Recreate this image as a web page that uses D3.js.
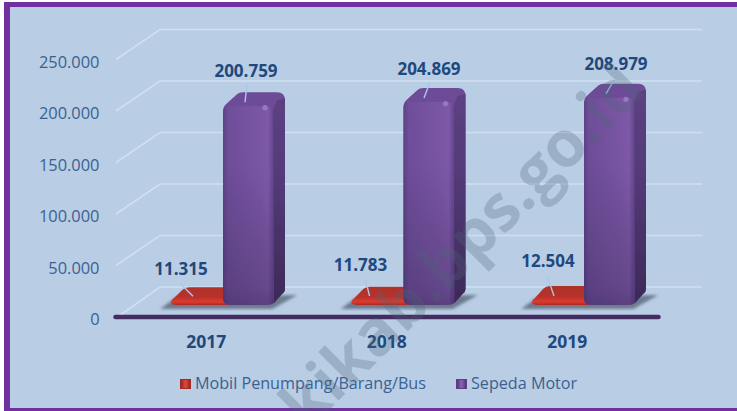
<!DOCTYPE html>
<html>
<head>
<meta charset="utf-8">
<script src="https://cdn.jsdelivr.net/npm/d3@7"></script>
<style>
  html, body { margin: 0; padding: 0; background: #fff; }
  svg { display: block; }
  text { font-family: "Open Sans", sans-serif; }
  .tick_label { font-size: 16.4px; fill: #3a6291; }
  .value_label { font-size: 17px; font-weight: 700; fill: #1f497d; }
  .year_label { font-size: 17.5px; font-weight: 700; fill: #1f497d; }
  .legend_label { font-size: 16.15px; fill: #3a6291; }
  .watermark { font-size: 64px; font-weight: 700; fill: #4f6478; fill-opacity: 0.28; }
</style>
</head>
<body>
<svg id="chart" width="737" height="411">
  <defs id="defs"></defs>
  <g id="frame"></g>
  <g id="grid"></g>
  <g id="shadows"></g>
  <g id="bars"></g>
  <g id="axes"></g>
  <g id="labels"></g>
  <g id="legend"></g>
  <g id="mark"></g>
</svg>
<script>
let years = ["2017", "2018", "2019"],
  mobil = [11315, 11783, 12504],
  motor = [200759, 204869, 208979],
  y_ticks = [0, 50000, 100000, 150000, 200000, 250000],
  series_names = ["Mobil Penumpang/Barang/Bus", "Sepeda Motor"];

let width = 737,
  height = 411,
  depth = {x: 44, y: 30},
  bar_depth = {x: 12, y: 14},
  base_y = 305;

let fmt = d3.formatLocale({decimal: ",", thousands: ".", grouping: [3], currency: ["", ""]}).format(",d");

let scales = {
  x: d3.scaleBand().domain(years).range([116, 657.5]),
  y: d3.scaleLinear().domain([0, 250000]).range([317, 59.5])
};

function gradient(id, x2, y2, stops) {
  d3.select("#defs").append("linearGradient")
    .attr("id", id).attr("x1", 0).attr("y1", 0).attr("x2", x2).attr("y2", y2)
    .selectAll("stop").data(stops).enter().append("stop")
    .attr("offset", d => d[0])
    .attr("stop-color", d => d[1])
    .attr("stop-opacity", d => d.length > 2 ? d[2] : 1);
}

function make_defs() {
  gradient("motor_front", 1, 0, [[0, "#5c4285"], [0.1, "#6f4e9a"], [0.75, "#7b56a5"], [0.9, "#7f5aa9"], [1, "#66478f"]]);
  gradient("motor_fade", 0, 1, [[0, "#2d1f4a", 0], [0.35, "#2d1f4a", 0.02], [0.92, "#2d1f4a", 0.3], [1, "#2d1f4a", 0.42]]);
  gradient("motor_side", 0, 1, [[0, "#5c4083"], [0.5, "#543a78"], [1, "#453060"]]);
  gradient("red_body", 0, 1, [[0, "#ad302a"], [0.55, "#b7322a"], [0.82, "#dd3b2f"], [1, "#ad2820"]]);
  gradient("red_swatch", 1, 0, [[0, "#8e2320"], [0.5, "#e0483c"], [1, "#8e2320"]]);
  gradient("motor_swatch", 1, 0, [[0, "#4b3370"], [0.5, "#8c63b5"], [1, "#4b3370"]]);
  d3.select("#defs").append("filter").attr("id", "soft")
    .append("feGaussianBlur").attr("stdDeviation", 0.7);
  d3.select("#defs").append("filter").attr("id", "shadow_blur")
    .append("feGaussianBlur").attr("stdDeviation", 1.6);
}

function frame() {
  let g = d3.select("#frame");
  g.append("rect")
    .attr("x", 4).attr("y", 2)
    .attr("width", width - 4).attr("height", height - 2)
    .attr("fill", "#7030a0");
  g.append("rect")
    .attr("x", 10).attr("y", 7)
    .attr("width", width - 10).attr("height", 401)
    .attr("fill", "#b9cde5");
}

function grid() {
  let right = 702, left = 116;
  d3.select("#grid").selectAll("path").data(y_ticks).enter().append("path")
    .attr("d", d => {
      let y = scales.y(d);
      return `M${left + (d == 0 ? 3 : 0)},${y - (d == 0 ? 1 : 0)}L${left + depth.x},${y - depth.y}L${right},${y - depth.y}`;
    })
    .attr("fill", "none")
    .attr("stroke", "#cfdff0")
    .attr("stroke-width", 1.6);
}

// whole outline of a purple bar, front face plus top and side
function outline(x0, w, top) {
  let x1 = x0 + w, dx = bar_depth.x, dy = bar_depth.y;
  return `M${x0 + 7},${base_y}Q${x0},${base_y} ${x0},${base_y - 7}L${x0},${top + 5}`
    + `Q${x0},${top} ${x0 + 4},${top - 3}L${x0 + dx + 2},${top - dy + 2}Q${x0 + dx + 4},${top - dy} ${x0 + dx + 8},${top - dy}`
    + `L${x1 + dx - 8},${top - dy}Q${x1 + dx},${top - dy} ${x1 + dx},${top - dy + 8}`
    + `L${x1 + dx},${base_y - dy - 2}Q${x1 + dx},${base_y - dy + 1} ${x1 + dx - 3},${base_y - dy + 3}`
    + `L${x1 + 1},${base_y - 2}Q${x1 - 2},${base_y} ${x1 - 6},${base_y}Z`;
}

function bars() {
  let g = d3.select("#bars");

  d3.select("#shadows").selectAll("path").data(years).enter().append("path")
    .attr("d", d => {
      let c = scales.x(d) + scales.x.bandwidth() / 2;
      return `M${c - 46},309L${c - 30},${base_y - 8}L${c + 91},${base_y - 10}L${c + 66},309Z`;
    })
    .attr("fill", "#6c7b8e")
    .attr("filter", "url(#shadow_blur)");

  // red bars first, the purple ones stand in front of them
  g.selectAll(".red").data(mobil).enter().append("path")
    .attr("class", "red")
    .attr("filter", "url(#soft)")
    .attr("d", (d, i) => {
      let x0 = scales.x(years[i]) + 55,
        x1 = scales.x(years[i]) + 112,
        top = scales.y(d) - 4;
      return `M${x0 + 6},${base_y}Q${x0},${base_y} ${x0},${base_y - 3}Q${x0},${base_y - 5} ${x0 + 3},${base_y - 7}`
        + `L${x0 + 11},${top - bar_depth.y + 3}Q${x0 + 14},${top - bar_depth.y} ${x0 + 19},${top - bar_depth.y}`
        + `L${x1},${top - bar_depth.y}L${x1},${base_y}Z`;
    })
    .attr("fill", "url(#red_body)");

  let purple = g.selectAll(".purple").data(motor).enter().append("g")
    .attr("class", "purple")
    .attr("filter", "url(#soft)");
  let px = i => scales.x(years[i]) + 107;
  let py = d => scales.y(d) - 4;

  // top surface
  purple.append("path")
    .attr("d", (d, i) => outline(px(i), 50, py(d)))
    .attr("fill", "#6d4b97");
  // right side
  purple.append("path")
    .attr("d", (d, i) => {
      let x1 = px(i) + 50, t = py(d);
      return `M${x1},${t + 6}Q${x1 + 1},${t - 1} ${x1 + 4},${t - 6}L${x1 + 12},${t - 8}`
        + `L${x1 + 12},${base_y - 16}Q${x1 + 12},${base_y - 13} ${x1 + 9},${base_y - 11}L${x1 + 1},${base_y - 2}Z`;
    })
    .attr("fill", "url(#motor_side)");
  // front face
  purple.append("path")
    .attr("d", (d, i) => {
      let x0 = px(i), t = py(d);
      return `M${x0 + 7},${base_y}Q${x0},${base_y} ${x0},${base_y - 7}L${x0},${t + 6}Q${x0},${t} ${x0 + 6},${t}`
        + `L${x0 + 44},${t}Q${x0 + 50},${t} ${x0 + 50},${t + 6}L${x0 + 50},${base_y - 3}Q${x0 + 49},${base_y} ${x0 + 44},${base_y}Z`;
    })
    .attr("fill", "url(#motor_front)");
  // everything darkens towards the floor
  purple.append("path")
    .attr("d", (d, i) => outline(px(i), 50, py(d)))
    .attr("fill", "url(#motor_fade)");
  purple.append("circle")
    .attr("cx", (d, i) => px(i) + 42)
    .attr("cy", d => py(d) + 1.5)
    .attr("r", 2.6)
    .attr("fill", "#9a74cc");
}

function axes() {
  let g = d3.select("#axes");
  g.append("line")
    .attr("x1", 115.5).attr("x2", 658.5)
    .attr("y1", scales.y(0)).attr("y2", scales.y(0))
    .attr("stroke", "#432c60")
    .attr("stroke-width", 4.5)
    .attr("stroke-linecap", "round");

  g.selectAll(".tick_label").data(y_ticks).enter().append("text")
    .attr("class", "tick_label")
    .attr("x", 99.5)
    .attr("y", d => scales.y(d) + 2.5)
    .attr("dy", "0.36em")
    .attr("text-anchor", "end")
    .text(d => d == 0 ? "0" : fmt(d));

  g.selectAll(".year_label").data(years).enter().append("text")
    .attr("class", "year_label")
    .attr("x", d => scales.x(d) + scales.x.bandwidth() / 2)
    .attr("y", 348)
    .attr("text-anchor", "middle")
    .text(d => d);
}

function labels() {
  let g = d3.select("#labels");
  // hand placed data labels: offset from the band start, and lift above the value
  let motor_nudge = [{x: 130, y: 33}, {x: 132.5, y: 31}, {x: 139, y: 32}],
    mobil_nudge = [{x: 65, y: 30}, {x: 64, y: 34}, {x: 71, y: 37}],
    motor_lead = [[131, 26, 129, 8], [133.5, 24, 127.5, 8], [139, 25, 129, 8]],
    mobil_lead = [[65, 21, 77, 9], [69, 25, 73, 9], [70, 29, 77, 8]];

  function leaders(cls, values, lead) {
    g.selectAll("." + cls).data(values).enter().append("line")
      .attr("class", cls)
      .attr("x1", (d, i) => scales.x(years[i]) + lead[i][0])
      .attr("x2", (d, i) => scales.x(years[i]) + lead[i][2])
      .attr("y1", (d, i) => scales.y(d) - lead[i][1])
      .attr("y2", (d, i) => scales.y(d) - lead[i][3])
      .attr("stroke", "#a9c9ec")
      .attr("stroke-width", 1.4);
  }
  function values(cls, vals, nudge) {
    g.selectAll("." + cls).data(vals).enter().append("text")
      .attr("class", cls + " value_label")
      .attr("x", (d, i) => scales.x(years[i]) + nudge[i].x)
      .attr("y", (d, i) => scales.y(d) - nudge[i].y)
      .attr("text-anchor", "middle")
      .text(d => fmt(d));
  }
  leaders("motor_lead", motor, motor_lead);
  leaders("mobil_lead", mobil, mobil_lead);
  values("motor_val", motor, motor_nudge);
  values("mobil_val", mobil, mobil_nudge);
}

function legend() {
  let g = d3.select("#legend"),
    swatch_x = [180, 456],
    fills = ["url(#red_swatch)", "url(#motor_swatch)"],
    edges = ["#a52a25", "#5b3f86"];

  let cell = g.selectAll("g").data(series_names).enter().append("g");
  cell.append("rect")
    .attr("x", (d, i) => swatch_x[i] + 0.5)
    .attr("y", 379.5)
    .attr("width", 10)
    .attr("height", 9)
    .attr("fill", (d, i) => fills[i])
    .attr("stroke", (d, i) => edges[i]);
  cell.append("text")
    .attr("class", "legend_label")
    .attr("x", (d, i) => swatch_x[i] + 15)
    .attr("y", 389)
    .text(d => d);
}

function watermark() {
  d3.select("#mark").append("text")
    .attr("class", "watermark")
    .attr("transform", "translate(279,460)rotate(-45)")
    .text("okikab.bps.go.id");
}

make_defs();
frame();
grid();
bars();
axes();
labels();
legend();
watermark();
</script>
</body>
</html>
